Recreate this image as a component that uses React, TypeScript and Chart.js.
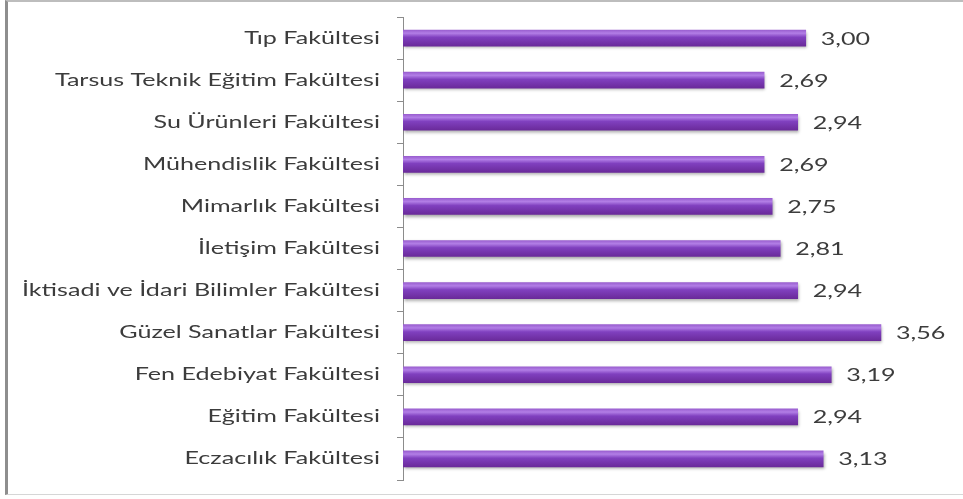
import React, { useEffect, useRef } from "react";
import { Chart, registerables } from "chart.js";

Chart.register(...registerables);

const categories = [
  "Tıp Fakültesi",
  "Tarsus Teknik Eğitim Fakültesi",
  "Su Ürünleri Fakültesi",
  "Mühendislik Fakültesi",
  "Mimarlık Fakültesi",
  "İletişim Fakültesi",
  "İktisadi ve İdari Bilimler Fakültesi",
  "Güzel Sanatlar Fakültesi",
  "Fen Edebiyat Fakültesi",
  "Eğitim Fakültesi",
  "Eczacılık Fakültesi",
];
const values = [3.0, 2.69, 2.94, 2.69, 2.75, 2.81, 2.94, 3.56, 3.19, 2.94, 3.13];
const axisMin = 0;
const axisMax = 4;

const FONT = '17px Lato, "Open Sans", sans-serif';
const LONGEST_LABEL_WIDTH = 358;

const fmt = (v: number) => v.toFixed(2).replace(".", ",");

const stretchedText = {
  id: "stretchedText",
  afterDatasetsDraw(chart: any) {
    const { ctx } = chart;
    const meta = chart.getDatasetMeta(0);
    const yScale = chart.scales.y;
    ctx.save();
    ctx.font = FONT;
    let maxW = 0;
    categories.forEach((c) => {
      maxW = Math.max(maxW, ctx.measureText(c).width);
    });
    const sx = LONGEST_LABEL_WIDTH / maxW;
    ctx.fillStyle = "#3c3c3c";
    ctx.textBaseline = "middle";
    const labelRight = yScale.right - 23;
    categories.forEach((c, i) => {
      const y = yScale.getPixelForValue(i);
      ctx.save();
      ctx.translate(labelRight, y);
      ctx.scale(sx, 1);
      ctx.textAlign = "right";
      ctx.fillText(c, 0, 0);
      ctx.restore();
    });
    meta.data.forEach((bar: any, i: number) => {
      ctx.save();
      ctx.translate(bar.x + 15, bar.y + 1);
      ctx.scale(sx, 1);
      ctx.textAlign = "left";
      ctx.fillText(fmt(values[i]), 0, 0);
      ctx.restore();
    });
    ctx.restore();
  },
};

const barShadow = {
  id: "barShadow",
  beforeDatasetDraw(chart: any) {
    const { ctx } = chart;
    ctx.save();
    ctx.shadowColor = "rgba(0,0,0,0.35)";
    ctx.shadowBlur = 3;
    ctx.shadowOffsetX = 1;
    ctx.shadowOffsetY = 2;
  },
  afterDatasetDraw(chart: any) {
    chart.ctx.restore();
  },
};

export default function App() {
  const ref = useRef<HTMLCanvasElement>(null);
  useEffect(() => {
    if (!ref.current) return;
    const chart = new Chart(ref.current, {
      type: "bar",
      data: {
        labels: categories,
        datasets: [
          {
            data: values,
            barThickness: 16,
            borderWidth: 0,
            backgroundColor: (c: any) => {
              const ch = c.chart;
              if (!ch.chartArea || c.dataIndex === undefined) return "#7030A0";
              const y = ch.scales.y.getPixelForValue(c.dataIndex);
              const g = ch.ctx.createLinearGradient(0, y - 8, 0, y + 8);
              g.addColorStop(0, "#9a5fd0");
              g.addColorStop(0.2, "#b27ee6");
              g.addColorStop(0.45, "#8040bf");
              g.addColorStop(1, "#6a2a9a");
              return g;
            },
          },
        ],
      },
      options: {
        indexAxis: "y",
        animation: false,
        responsive: false,
        devicePixelRatio: 1,
        layout: { padding: { top: 17, bottom: 19, right: 23, left: 0 } },
        plugins: { legend: { display: false }, tooltip: { enabled: false } },
        scales: {
          x: { display: false, min: axisMin, max: axisMax },
          y: {
            afterFit: (s: any) => {
              s.width = 403;
            },
            border: { display: true, color: "#8c8c8c", width: 1 },
            grid: {
              offset: true,
              drawOnChartArea: false,
              drawTicks: true,
              tickLength: 6,
              color: "#8c8c8c",
            },
            ticks: { display: false },
          },
        },
      },
      plugins: [barShadow, stretchedText],
    } as any);
    return () => chart.destroy();
  }, []);
  return (
    <div style={{ position: "fixed", left: 0, top: 0, width: 963, height: 499, background: "#fff" }}>
      <canvas ref={ref} width={963} height={499} style={{ position: "absolute", left: 0, top: 0 }} />
      <div
        style={{
          position: "absolute",
          left: 5,
          top: 0,
          width: 970,
          height: 492,
          borderLeft: "3px solid #8e8e8e",
          borderTop: "2px solid #bdbdbd",
          borderBottom: "1px solid #d6d6d6",
          pointerEvents: "none",
        }}
      />
    </div>
  );
}
